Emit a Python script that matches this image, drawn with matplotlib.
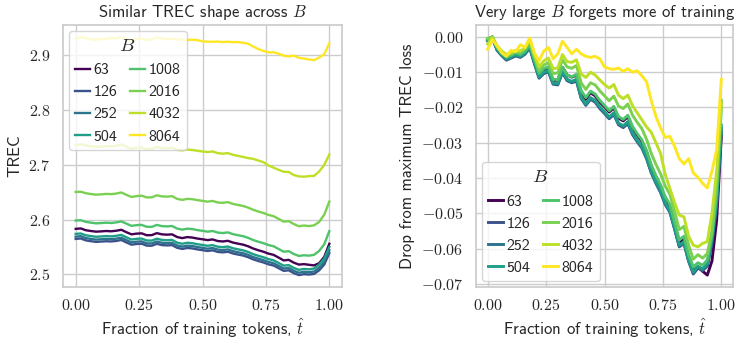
import numpy as np
import matplotlib
matplotlib.use("Agg")
import matplotlib.pyplot as plt
from matplotlib.ticker import FuncFormatter, MultipleLocator

# ---------------- data ----------------
batch_sizes = [63, 126, 252, 504, 1008, 2016, 4032, 8064]
# maximum TREC value of each run
peak_trec = [2.584, 2.566, 2.570, 2.575, 2.599, 2.651, 2.738, 2.934]

t_hat = np.linspace(0.0, 1.0, 51)

drop_63 = [-0.0008, 0.0000, -0.0033, -0.0047, -0.0059, -0.0054, -0.0047, -0.0052, -0.0042, -0.0025,
           -0.0069, -0.0108, -0.0095, -0.0090, -0.0124, -0.0122, -0.0086, -0.0108, -0.0114, -0.0108,
           -0.0157, -0.0177, -0.0158, -0.0167, -0.0185, -0.0198, -0.0213, -0.0201, -0.0230, -0.0238,
           -0.0226, -0.0258, -0.0278, -0.0296, -0.0326, -0.0367, -0.0398, -0.0425, -0.0460, -0.0482,
           -0.0532, -0.0584, -0.0574, -0.0625, -0.0660, -0.0652, -0.0664, -0.0675, -0.0635, -0.0520,
           -0.0280]
drop_126 = [-0.0012, -0.0003, -0.0038, -0.0053, -0.0066, -0.0060, -0.0054, -0.0058, -0.0049, -0.0031,
            -0.0076, -0.0117, -0.0104, -0.0099, -0.0134, -0.0136, -0.0101, -0.0124, -0.0130, -0.0125,
            -0.0174, -0.0194, -0.0177, -0.0185, -0.0203, -0.0217, -0.0232, -0.0220, -0.0249, -0.0257,
            -0.0246, -0.0277, -0.0297, -0.0315, -0.0345, -0.0385, -0.0415, -0.0441, -0.0475, -0.0497,
            -0.0545, -0.0595, -0.0585, -0.0636, -0.0672, -0.0655, -0.0662, -0.0650, -0.0585, -0.0480,
            -0.0270]
drop_252 = [-0.0011, -0.0001, -0.0036, -0.0052, -0.0064, -0.0058, -0.0052, -0.0056, -0.0047, -0.0030,
            -0.0074, -0.0115, -0.0102, -0.0097, -0.0132, -0.0134, -0.0099, -0.0122, -0.0128, -0.0122,
            -0.0172, -0.0192, -0.0175, -0.0182, -0.0200, -0.0214, -0.0230, -0.0218, -0.0246, -0.0255,
            -0.0243, -0.0275, -0.0295, -0.0313, -0.0343, -0.0383, -0.0412, -0.0439, -0.0472, -0.0495,
            -0.0543, -0.0592, -0.0583, -0.0634, -0.0669, -0.0652, -0.0660, -0.0647, -0.0578, -0.0470,
            -0.0260]
drop_504 = [-0.0010, -0.0002, -0.0035, -0.0050, -0.0062, -0.0057, -0.0050, -0.0055, -0.0045, -0.0028,
            -0.0072, -0.0113, -0.0100, -0.0095, -0.0130, -0.0132, -0.0097, -0.0120, -0.0126, -0.0120,
            -0.0170, -0.0190, -0.0172, -0.0180, -0.0198, -0.0212, -0.0227, -0.0215, -0.0244, -0.0252,
            -0.0240, -0.0272, -0.0292, -0.0310, -0.0340, -0.0380, -0.0410, -0.0436, -0.0470, -0.0492,
            -0.0540, -0.0590, -0.0580, -0.0632, -0.0666, -0.0650, -0.0657, -0.0642, -0.0570, -0.0460,
            -0.0250]
drop_1008 = [-0.0006, 0.0000, -0.0030, -0.0045, -0.0057, -0.0052, -0.0045, -0.0050, -0.0040, -0.0022,
             -0.0062, -0.0103, -0.0090, -0.0085, -0.0120, -0.0121, -0.0086, -0.0108, -0.0113, -0.0106,
             -0.0152, -0.0172, -0.0154, -0.0162, -0.0180, -0.0194, -0.0209, -0.0197, -0.0226, -0.0234,
             -0.0222, -0.0254, -0.0274, -0.0292, -0.0322, -0.0362, -0.0393, -0.0419, -0.0453, -0.0475,
             -0.0525, -0.0575, -0.0565, -0.0617, -0.0652, -0.0640, -0.0647, -0.0632, -0.0560, -0.0440,
             -0.0200]
drop_2016 = [-0.0004, 0.0000, -0.0027, -0.0042, -0.0053, -0.0048, -0.0040, -0.0044, -0.0033, -0.0014,
             -0.0057, -0.0095, -0.0080, -0.0073, -0.0104, -0.0102, -0.0065, -0.0085, -0.0089, -0.0081,
             -0.0130, -0.0149, -0.0130, -0.0136, -0.0153, -0.0167, -0.0181, -0.0168, -0.0196, -0.0203,
             -0.0190, -0.0222, -0.0242, -0.0260, -0.0290, -0.0330, -0.0361, -0.0388, -0.0423, -0.0446,
             -0.0495, -0.0546, -0.0537, -0.0590, -0.0630, -0.0617, -0.0627, -0.0614, -0.0550, -0.0420,
             -0.0180]
drop_4032 = [-0.0020, -0.0002, -0.0025, -0.0040, -0.0050, -0.0045, -0.0038, -0.0040, -0.0030, -0.0008,
             -0.0050, -0.0085, -0.0068, -0.0060, -0.0090, -0.0088, -0.0050, -0.0070, -0.0072, -0.0065,
             -0.0105, -0.0115, -0.0100, -0.0108, -0.0122, -0.0135, -0.0145, -0.0135, -0.0165, -0.0175,
             -0.0165, -0.0195, -0.0215, -0.0235, -0.0255, -0.0270, -0.0300, -0.0330, -0.0390, -0.0430,
             -0.0470, -0.0505, -0.0510, -0.0565, -0.0590, -0.0595, -0.0585, -0.0580, -0.0500, -0.0380,
             -0.0190]
drop_8064 = [-0.0035, -0.0008, -0.0025, -0.0045, -0.0055, -0.0038, -0.0042, -0.0022, -0.0030, -0.0003,
             -0.0045, -0.0068, -0.0040, -0.0030, -0.0062, -0.0048, -0.0012, -0.0030, -0.0048, -0.0035,
             -0.0048, -0.0055, -0.0058, -0.0055, -0.0062, -0.0085, -0.0090, -0.0092, -0.0088, -0.0098,
             -0.0090, -0.0100, -0.0096, -0.0110, -0.0127, -0.0180, -0.0225, -0.0258, -0.0285, -0.0282,
             -0.0310, -0.0345, -0.0360, -0.0345, -0.0385, -0.0398, -0.0415, -0.0428, -0.0380, -0.0320,
             -0.0120]

drops = [drop_63, drop_126, drop_252, drop_504, drop_1008, drop_2016, drop_4032, drop_8064]

# ---------------- style ----------------
plt.rcParams.update({
    "font.family": ["cmss10", "DejaVu Sans"],
    "mathtext.fontset": "cm",
    "axes.unicode_minus": False,
    "axes.edgecolor": "#cccccc",
    "axes.linewidth": 1.25,
    "grid.color": "#cccccc",
    "grid.linewidth": 1.0,
    "text.color": "#262626",
    "axes.labelcolor": "#262626",
    "xtick.color": "#262626",
    "ytick.color": "#262626",
    "xtick.major.size": 0,
    "ytick.major.size": 0,
    "xtick.major.pad": 8,
    "ytick.major.pad": 9,
})

cmap_pos = [0.0, 0.25, 0.38, 0.56, 0.72, 0.80, 0.90, 1.0]
colors = plt.get_cmap("viridis")(cmap_pos)

fig = plt.figure(figsize=(7.37, 3.39), dpi=100)
ax1 = fig.add_axes([63 / 737, 1 - 287 / 339, (342 - 63) / 737, (287 - 25) / 339])
ax2 = fig.add_axes([476 / 737, 1 - 287 / 339, (733 - 476) / 737, (287 - 25) / 339])

math_fmt2 = FuncFormatter(lambda v, p: r"$%.2f$" % v if abs(v) > 1e-9 else r"$0.00$")
math_fmt1 = FuncFormatter(lambda v, p: r"$%.1f$" % v)

for B, pk, d, c in zip(batch_sizes, peak_trec, drops, colors):
    d = np.asarray(d)
    ax1.plot(t_hat, pk + d, color=c, lw=1.7, label=str(B))
    ax2.plot(t_hat, d, color=c, lw=2.1, label=str(B))

for ax in (ax1, ax2):
    ax.grid(True)
    ax.set_axisbelow(True)
    ax.xaxis.set_major_locator(MultipleLocator(0.25))
    ax.xaxis.set_major_formatter(math_fmt2)
    ax.set_xlabel(r"Fraction of training tokens, $\hat{t}$", fontsize=12, labelpad=2)
    ax.tick_params(labelsize=11.5)

ax1.yaxis.set_major_locator(MultipleLocator(0.1))
ax1.yaxis.set_major_formatter(math_fmt1)
ax2.yaxis.set_major_locator(MultipleLocator(0.01))
ax2.yaxis.set_major_formatter(math_fmt2)

ax1.set_ylabel("TREC", fontsize=12)
ax2.set_ylabel("Drop from maximum TREC loss", fontsize=12)
ax1.set_title(r"Similar TREC shape across $B$", fontsize=12)
ax2.set_title(r"Very large $B$ forgets more of training", fontsize=12)

leg_kw = dict(ncol=2, title=r"$B$", fontsize=11.5, title_fontsize=13.5,
              handlelength=0.95, handletextpad=0.2, columnspacing=0.8,
              labelspacing=0.5, borderpad=0.4, borderaxespad=0.35,
              edgecolor="#cccccc", framealpha=0.8)
ax1.legend(loc="upper left", **leg_kw)
ax2.legend(loc="lower left", **leg_kw)

fig.savefig("out.png", dpi=100)
